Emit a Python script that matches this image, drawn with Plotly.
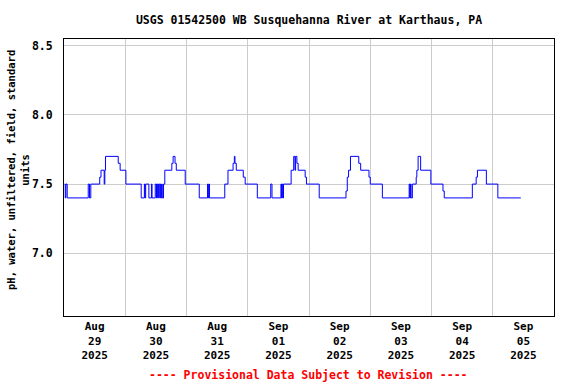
import plotly.graph_objects as go

# Step change points of the pH record (15-minute data, value holds until next point)
times = [
    "2025-08-29 00:15", "2025-08-29 00:30", "2025-08-29 00:45", "2025-08-29 01:15",
    "2025-08-29 09:30", "2025-08-29 10:00", "2025-08-29 10:30", "2025-08-29 14:00",
    "2025-08-29 14:30", "2025-08-29 15:45", "2025-08-29 16:00", "2025-08-29 16:15",
    "2025-08-29 21:15", "2025-08-29 22:00",
    "2025-08-30 00:15", "2025-08-30 06:15", "2025-08-30 07:30", "2025-08-30 07:45",
    "2025-08-30 08:00", "2025-08-30 09:15", "2025-08-30 10:15", "2025-08-30 10:30",
    "2025-08-30 11:45", "2025-08-30 12:15", "2025-08-30 12:30", "2025-08-30 12:45",
    "2025-08-30 13:00", "2025-08-30 13:30", "2025-08-30 13:45", "2025-08-30 14:00",
    "2025-08-30 14:15", "2025-08-30 14:30", "2025-08-30 15:00", "2025-08-30 15:30",
    "2025-08-30 18:15", "2025-08-30 18:45", "2025-08-30 19:30", "2025-08-30 20:00",
    "2025-08-30 23:30",
    "2025-08-31 05:00", "2025-08-31 08:15", "2025-08-31 08:30", "2025-08-31 08:45",
    "2025-08-31 09:00", "2025-08-31 15:00", "2025-08-31 16:15", "2025-08-31 18:15",
    "2025-08-31 18:45", "2025-08-31 19:00", "2025-08-31 19:30", "2025-08-31 22:15",
    "2025-08-31 23:00",
    "2025-09-01 03:45", "2025-09-01 09:00", "2025-09-01 09:30", "2025-09-01 13:00",
    "2025-09-01 13:15", "2025-09-01 13:30", "2025-09-01 13:45", "2025-09-01 14:00",
    "2025-09-01 17:00", "2025-09-01 18:00", "2025-09-01 18:30", "2025-09-01 18:45",
    "2025-09-01 19:15", "2025-09-01 19:45", "2025-09-01 22:30", "2025-09-01 23:00",
    "2025-09-02 04:00", "2025-09-02 14:30", "2025-09-02 15:00", "2025-09-02 15:30",
    "2025-09-02 16:15", "2025-09-02 19:30", "2025-09-02 20:15", "2025-09-02 23:30",
    "2025-09-03 00:00", "2025-09-03 04:45", "2025-09-03 15:15", "2025-09-03 15:30",
    "2025-09-03 15:45", "2025-09-03 16:00", "2025-09-03 16:30", "2025-09-03 18:00",
    "2025-09-03 18:15", "2025-09-03 18:45", "2025-09-03 19:45", "2025-09-03 23:45",
    "2025-09-04 04:30", "2025-09-04 05:00", "2025-09-04 16:00", "2025-09-04 17:30",
    "2025-09-04 18:00", "2025-09-04 21:30",
    "2025-09-05 02:00", "2025-09-05 11:00",
]
ph_values = [
    7.5, 7.4, 7.5, 7.4,
    7.5, 7.4, 7.5, 7.55,
    7.6, 7.5, 7.6, 7.7,
    7.65, 7.6,
    7.5, 7.4, 7.5, 7.4,
    7.5, 7.4, 7.5, 7.4,
    7.5, 7.4, 7.5, 7.4,
    7.5, 7.4, 7.5, 7.4,
    7.5, 7.4, 7.5, 7.6,
    7.65, 7.7, 7.65, 7.6,
    7.5,
    7.4, 7.5, 7.4, 7.5,
    7.4, 7.5, 7.6, 7.65,
    7.7, 7.65, 7.6, 7.55,
    7.5,
    7.4, 7.5, 7.4, 7.5,
    7.4, 7.5, 7.4, 7.5,
    7.6, 7.7, 7.6, 7.7,
    7.65, 7.6, 7.55, 7.5,
    7.4, 7.45, 7.55, 7.6,
    7.7, 7.65, 7.6, 7.55,
    7.5, 7.4, 7.5, 7.4,
    7.5, 7.4, 7.5, 7.55,
    7.6, 7.7, 7.6, 7.5,
    7.45, 7.4, 7.5, 7.55,
    7.6, 7.5,
    7.4, 7.4,
]

y_ticks = [7.0, 7.5, 8.0, 8.5]
x_range = ["2025-08-29 00:00", "2025-09-06 00:00"]
y_range = [6.547, 8.548]

title_text = "USGS 01542500 WB Susquehanna River at Karthaus, PA"
y_title = "pH, water, unfiltered, field, standard<br>units"
footer = "---- Provisional Data Subject to Revision ----"

FONT = "DejaVu Sans Mono"

fig = go.Figure()
fig.add_trace(go.Scatter(
    x=times, y=ph_values, mode="lines",
    line=dict(color="#0000FF", width=1, shape="hv"),
    showlegend=False, hoverinfo="x+y",
))

fig.update_layout(
    width=576, height=384,
    margin=dict(l=64, r=22, t=39, b=68),
    paper_bgcolor="white", plot_bgcolor="white",
    font=dict(family=FONT, size=11, color="black", weight="bold"),
    title=dict(text=title_text, x=0.5, xref="paper", xanchor="center",
               y=1 - 20 / 384, yref="container", yanchor="middle",
               font=dict(family=FONT, size=11.5, color="black", weight="bold")),
    xaxis=dict(
        range=x_range, type="date",
        tick0="2025-08-29", dtick=86400000,
        ticklabelmode="period", tickformat="%b<br>%d<br>%Y",
        showgrid=True, gridcolor="#cccccc", gridwidth=1,
        showline=True, linecolor="black", linewidth=1, mirror=True,
        ticks="", zeroline=False,
        tickfont=dict(family=FONT, size=11, color="black", weight="bold"),
    ),
    yaxis=dict(
        range=y_range, tickvals=y_ticks, tickformat=".1f",
        showgrid=True, gridcolor="#cccccc", gridwidth=1,
        showline=True, linecolor="black", linewidth=1, mirror=True,
        ticks="", zeroline=False, ticklabelstandoff=8,
        tickfont=dict(family=FONT, size=11.5, color="black", weight="bold"),
    ),
)

fig.add_annotation(
    text=y_title, xref="paper", yref="paper",
    x=(18 - 64) / 490, y=(316 - 170) / 277,
    xanchor="center", yanchor="middle", textangle=-90, showarrow=False,
    font=dict(family=FONT, size=10.5, color="black", weight="bold"),
)
fig.add_annotation(
    text=footer, xref="paper", yref="paper",
    x=(308 - 64) / 490, y=(316 - 375) / 277,
    xanchor="center", yanchor="middle", showarrow=False,
    font=dict(family=FONT, size=11.5, color="red", weight="bold"),
)

fig.write_html(
    "out.html",
    config={"displayModeBar": False},
    post_script="document.body.style.margin='0';document.body.style.padding='0';",
)
